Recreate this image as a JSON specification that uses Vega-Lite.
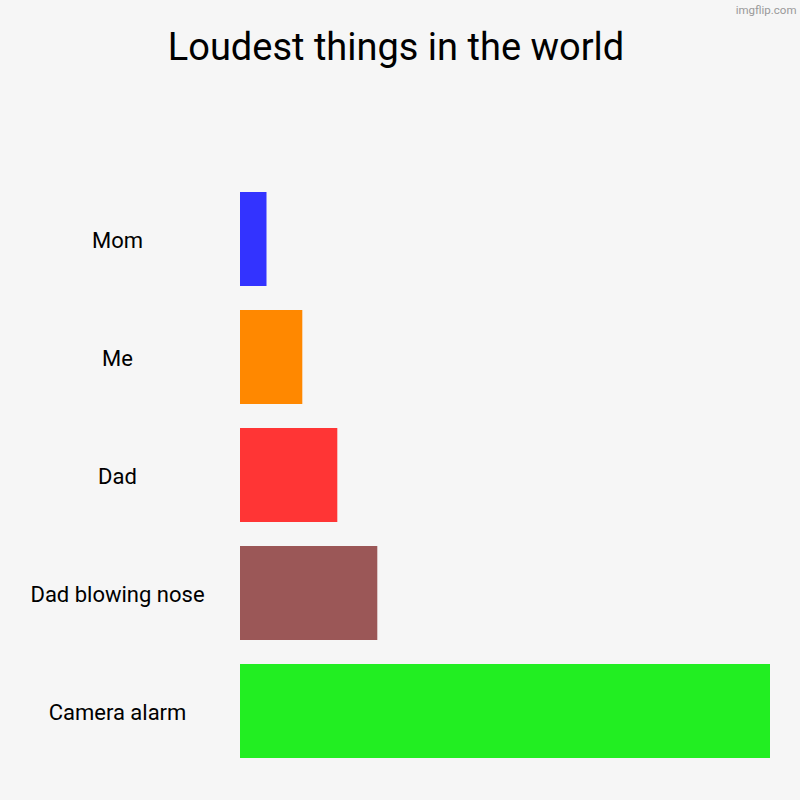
{
  "$schema": "https://vega.github.io/schema/vega-lite/v6.json",
  "width": 530,
  "height": 566,
  "autosize": "none",
  "padding": {"left": 240, "top": 192, "right": 30, "bottom": 42},
  "background": "#f6f6f6",
  "view": {"stroke": null},
  "title": {
    "text": "Loudest things in the world",
    "anchor": "middle",
    "dx": -109,
    "offset": 0,
    "dy": 94,
    "baseline": "alphabetic",
    "font": "Roboto",
    "fontSize": 38,
    "fontWeight": "normal",
    "color": "#000000"
  },
  "data": {
    "values": [
      {"thing": "Mom", "loudness": 26.5},
      {"thing": "Me", "loudness": 62.3},
      {"thing": "Dad", "loudness": 97.3},
      {"thing": "Dad blowing nose", "loudness": 137.3},
      {"thing": "Camera alarm", "loudness": 530}
    ]
  },
  "mark": "bar",
  "encoding": {
    "y": {
      "field": "thing",
      "type": "nominal",
      "sort": null,
      "title": null,
      "scale": {"paddingInner": 0.2034, "paddingOuter": 0},
      "axis": {
        "domain": false,
        "ticks": false,
        "labelAlign": "center",
        "labelPadding": 123,
        "labelOffset": 2,
        "labelFont": "Roboto",
        "labelFontSize": 22,
        "labelColor": "#000000",
        "labelLimit": 300
      }
    },
    "x": {
      "field": "loudness",
      "type": "quantitative",
      "scale": {"domain": [0, 530], "nice": false},
      "axis": {
        "orient": "top",
        "domain": false,
        "ticks": false,
        "labels": false,
        "grid": false,
        "title": "imgflip.com",
        "titleFont": "Roboto",
        "titleFontSize": 11.5,
        "titleFontWeight": "normal",
        "titleColor": "#999999",
        "titleAlign": "right",
        "titleBaseline": "alphabetic",
        "titleX": 556,
        "titleY": -179
      }
    },
    "color": {
      "field": "thing",
      "type": "nominal",
      "legend": null,
      "scale": {
        "domain": ["Mom", "Me", "Dad", "Dad blowing nose", "Camera alarm"],
        "range": ["#3333ff", "#ff8800", "#ff3535", "#9b5757", "#22ee22"]
      }
    }
  }
}
